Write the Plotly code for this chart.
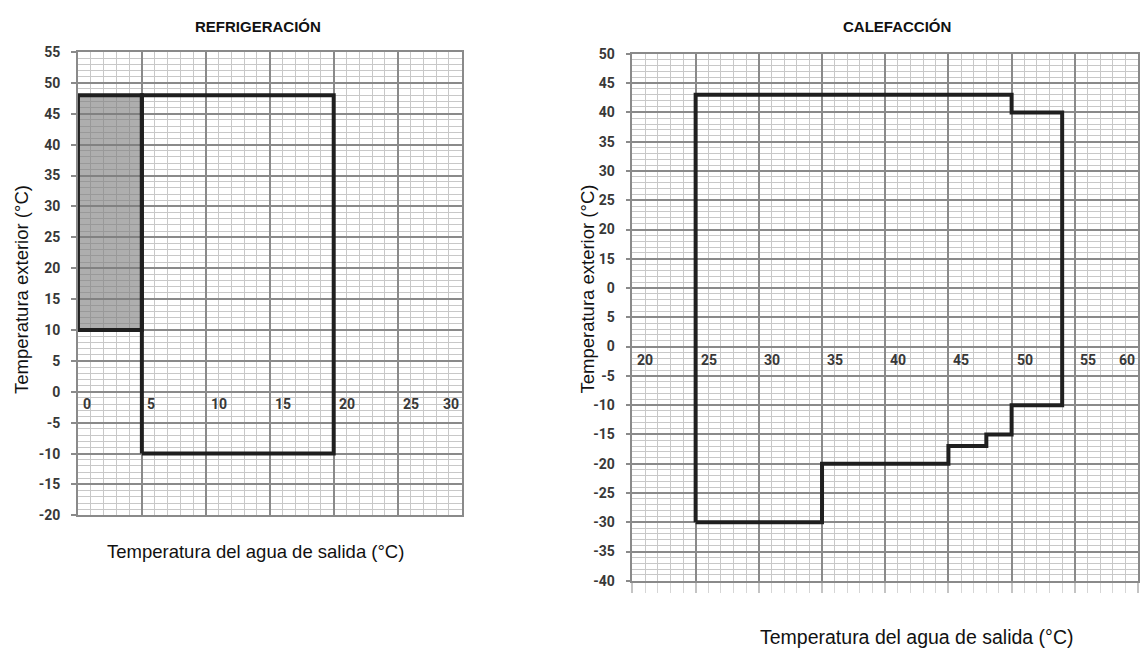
import plotly.graph_objects as go

W, H = 1140, 660

# ---------------- data ----------------
# Cooling (REFRIGERACIÓN)
cool_glycol_x = [0, 5, 5, 0, 0]
cool_glycol_y = [10, 10, 48, 48, 10]
cool_x = [5, 20, 20, 5, 5]
cool_y = [-10, -10, 48, 48, -10]
cool_xticks = [0, 5, 10, 15, 20, 25, 30]
cool_yticks = [55, 50, 45, 40, 35, 30, 25, 20, 15, 10, 5, 0, -5, -10, -15, -20]

# Heating (CALEFACCIÓN)
heat_x = [25, 25, 50, 50, 54, 54, 50, 50, 48, 48, 45, 45, 35, 35, 25]
heat_y = [-30, 43, 43, 40, 40, -10, -10, -15, -15, -17, -17, -20, -20, -30, -30]
heat_xticks = [20, 25, 30, 35, 40, 45, 50, 55, 60]
heat_yticks = [50, 45, 40, 35, 30, 25, 20, 15, 10, 5, 0, -5, -10, -15, -20, -25, -30, -35, -40]
heat_yticktext = ["50", "45", "40", "35", "30", "25", "20", "15", "0", "5", "0", "-5", "-10",
                  "-15", "-20", "-25", "-30", "-35", "-40"]

titles = ["REFRIGERACIÓN", "CALEFACCIÓN"]
xtitle = "Temperatura del agua de salida (°C)"
ytitle = "Temperatura exterior (°C)"

# ---------------- style ----------------
MAJOR = "#8a8a8a"
MINOR = "#c8c8c8"
LINE = "#1f1f1f"
TICKFONT = dict(family="Roboto, Arial, sans-serif", size=14, color="#383838", weight="bold")
TXTFONT = "Liberation Sans, Arial, sans-serif"


def px_x(p):
    return p / W


def px_y(p):
    return 1 - p / H


fig = go.Figure()

fig.add_trace(go.Scatter(x=cool_glycol_x, y=cool_glycol_y, mode="lines", fill="toself",
                         fillcolor="rgba(125,125,125,0.62)",
                         line=dict(color=LINE, width=4), xaxis="x", yaxis="y",
                         hoverinfo="skip", showlegend=False))
fig.add_trace(go.Scatter(x=cool_x, y=cool_y, mode="lines",
                         line=dict(color=LINE, width=4), xaxis="x", yaxis="y",
                         hoverinfo="skip", showlegend=False))
fig.add_trace(go.Scatter(x=heat_x, y=heat_y, mode="lines",
                         line=dict(color=LINE, width=4), xaxis="x2", yaxis="y2",
                         hoverinfo="skip", showlegend=False))


def xax(domain, rng, anchor, bottom_ticks=False):
    d = dict(domain=domain, range=rng, anchor=anchor, tick0=0, dtick=5,
             showgrid=True, gridcolor=MAJOR, gridwidth=1.5,
             minor=dict(dtick=1, showgrid=True, gridcolor=MINOR, gridwidth=1),
             showticklabels=False, zeroline=False,
             showline=True, mirror=True, linecolor=MAJOR, linewidth=1.5,
             fixedrange=True)
    if bottom_ticks:
        d.update(ticks="outside", ticklen=10, tickcolor="#c4c4c4", tickwidth=1.5)
        d["minor"].update(ticks="outside", ticklen=10, tickcolor="#d6d6d6", tickwidth=1)
    return d


def yax(domain, rng, anchor, tickvals, ticktext):
    return dict(domain=domain, range=rng, anchor=anchor,
                tickmode="array", tickvals=tickvals, ticktext=ticktext,
                showgrid=True, gridcolor=MAJOR, gridwidth=1.5,
                minor=dict(dtick=1, tick0=0, showgrid=True, gridcolor=MINOR, gridwidth=1),
                ticks="outside", ticklen=5, tickcolor=MAJOR, tickwidth=1.5,
                ticklabelstandoff=8, tickfont=TICKFONT,
                zeroline=False, showline=True, mirror=True,
                linecolor=MAJOR, linewidth=1.5, fixedrange=True)


fig.update_layout(
    width=W, height=H, margin=dict(l=0, r=0, t=0, b=0),
    paper_bgcolor="white", plot_bgcolor="white", showlegend=False,
    xaxis=xax([px_x(78), px_x(462)], [0, 30], "y"),
    yaxis=yax([px_y(520), px_y(45)], [-20, 55], "x", cool_yticks, [str(v) for v in cool_yticks]),
    xaxis2=xax([px_x(633), px_x(1139)], [20, 60], "y2", bottom_ticks=True),
    yaxis2=yax([px_y(587), px_y(47)], [-40, 50], "x2", heat_yticks, heat_yticktext),
)

ann = []
# x tick labels placed along the y = 0 line, to the right of each grid line
for i, v in enumerate(cool_xticks):
    last = i == len(cool_xticks) - 1
    ann.append(dict(x=v, y=0, xref="x", yref="y", text=str(v), showarrow=False,
                    xanchor="right" if last else "left", yanchor="top",
                    xshift=-1 if last else 3, yshift=-2, font=TICKFONT))
for i, v in enumerate(heat_xticks):
    last = i == len(heat_xticks) - 1
    ann.append(dict(x=v, y=0, xref="x2", yref="y2", text=str(v), showarrow=False,
                    xanchor="right" if last else "left", yanchor="top",
                    xshift=-1 if last else 3, yshift=-3, font=TICKFONT))

# titles
ann.append(dict(x=px_x(258), y=px_y(19), xref="paper", yref="paper", text="<b>%s</b>" % titles[0],
                showarrow=False, xanchor="center", yanchor="middle",
                font=dict(family=TXTFONT, size=15, color="#111")))
ann.append(dict(x=px_x(898), y=px_y(19), xref="paper", yref="paper", text="<b>%s</b>" % titles[1],
                showarrow=False, xanchor="center", yanchor="middle",
                font=dict(family=TXTFONT, size=15, color="#111")))
# axis titles
ann.append(dict(x=px_x(256), y=px_y(557), xref="paper", yref="paper", text=xtitle,
                showarrow=False, xanchor="center", yanchor="middle",
                font=dict(family=TXTFONT, size=18.5, color="#111")))
ann.append(dict(x=px_x(917), y=px_y(645), xref="paper", yref="paper", text=xtitle,
                showarrow=False, xanchor="center", yanchor="middle",
                font=dict(family=TXTFONT, size=19.5, color="#111")))
ann.append(dict(x=px_x(21), y=px_y(288), xref="paper", yref="paper", text=ytitle,
                showarrow=False, xanchor="center", yanchor="middle", textangle=-90,
                font=dict(family=TXTFONT, size=18.5, color="#111")))
ann.append(dict(x=px_x(588), y=px_y(288), xref="paper", yref="paper", text=ytitle,
                showarrow=False, xanchor="center", yanchor="middle", textangle=-90,
                font=dict(family=TXTFONT, size=18.5, color="#111")))

fig.update_layout(annotations=ann)

fig.write_html("out.html", config={"displayModeBar": False},
               post_script="document.body.style.margin='0';document.body.style.overflow='hidden';")
